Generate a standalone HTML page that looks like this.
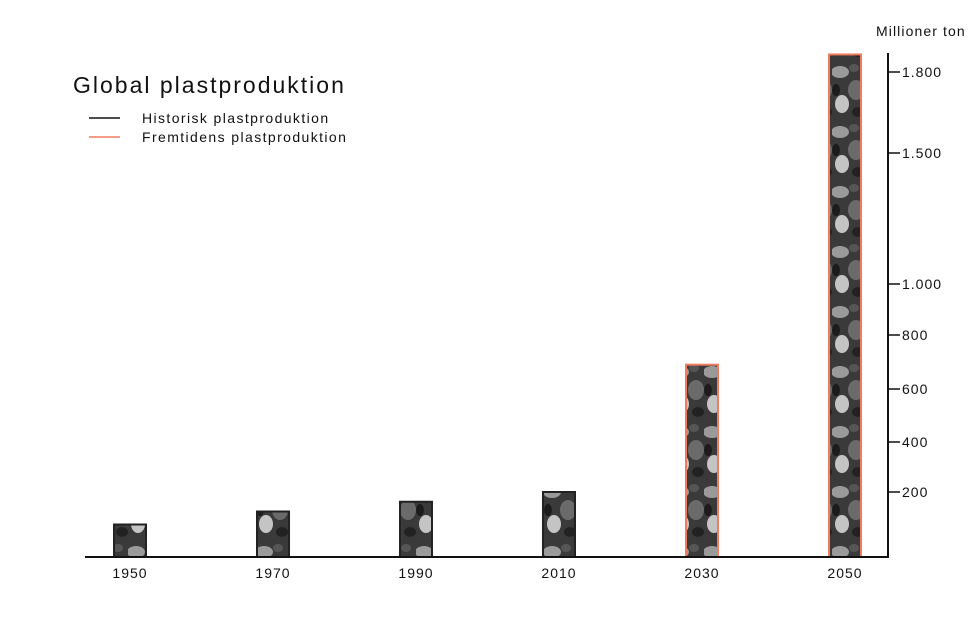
<!DOCTYPE html>
<html><head><meta charset="utf-8">
<style>
html,body{margin:0;padding:0;background:#fff;}
body{width:975px;height:633px;overflow:hidden;font-family:"Liberation Sans",sans-serif;}
</style></head>
<body>
<svg id="chart" width="975" height="633" viewBox="0 0 975 633" xmlns="http://www.w3.org/2000/svg">
<defs>
<pattern id="tex" patternUnits="userSpaceOnUse" width="32" height="60">
<rect width="32" height="60" fill="#3a3a3a"/>
<ellipse cx="8" cy="12" rx="9" ry="6" fill="#9a9a9a"/>
<ellipse cx="24" cy="30" rx="8" ry="10" fill="#6b6b6b"/>
<ellipse cx="10" cy="44" rx="7" ry="9" fill="#c4c4c4"/>
<ellipse cx="26" cy="52" rx="6" ry="5" fill="#222"/>
<ellipse cx="22" cy="8" rx="5" ry="4" fill="#555"/>
<ellipse cx="4" cy="30" rx="4" ry="6" fill="#1c1c1c"/>
</pattern>
</defs>
<g id="title">
<text x="73" y="93" font-size="23" letter-spacing="2" fill="#111">Global plastproduktion</text>
<line x1="89" y1="118" x2="120" y2="118" stroke="#111" stroke-width="1.5"/>
<text x="142" y="123" font-size="14" letter-spacing="1.4" fill="#111">Historisk plastproduktion</text>
<line x1="89" y1="137" x2="120" y2="137" stroke="#f07c5f" stroke-width="1.5"/>
<text x="142" y="142" font-size="14" letter-spacing="1.4" fill="#111">Fremtidens plastproduktion</text>
</g>
<text x="876" y="36" font-size="14" letter-spacing="1.1" fill="#111">Millioner ton</text>
<g id="bars"></g>
<g id="axes"></g>
</svg>
<script>
const categories = ["1950","1970","1990","2010","2030","2050"];
const values = [100, 140, 170, 200, 690, 1865];
const kinds = ["historic","historic","historic","historic","future","future"];
const tickValues = [200, 400, 600, 800, 1000, 1500, 1800];
const tickLabels = ["200","400","600","800","1.000","1.500","1.800"];

const NS = "http://www.w3.org/2000/svg";
const anchorV = [0, 200, 400, 600, 800, 1000, 1500, 1800];
const anchorY = [557, 492, 442, 389, 335, 284, 153, 72];
function yScale(v){
  for (let i=0;i<anchorV.length-1;i++){
    if (v<=anchorV[i+1] || i===anchorV.length-2){
      const t=(v-anchorV[i])/(anchorV[i+1]-anchorV[i]);
      return anchorY[i]+t*(anchorY[i+1]-anchorY[i]);
    }
  }
}
function xScale(i){ return 130 + i*143; }
const bw = 32;
const bars = document.getElementById("bars");
categories.forEach((c,i)=>{
  const y = yScale(values[i]);
  const r = document.createElementNS(NS,"rect");
  r.setAttribute("x", xScale(i)-bw/2);
  r.setAttribute("y", y);
  r.setAttribute("width", bw);
  r.setAttribute("height", 557-y);
  r.setAttribute("fill", "url(#tex)");
  r.setAttribute("stroke", kinds[i]==="future" ? "#f07c5f" : "#222");
  r.setAttribute("stroke-width", "2");
  
  
  bars.appendChild(r);
  const t = document.createElementNS(NS,"text");
  t.setAttribute("x", xScale(i));
  t.setAttribute("y", 578);
  t.setAttribute("text-anchor","middle");
  t.setAttribute("font-size","14");
  t.setAttribute("letter-spacing","1");
  t.setAttribute("fill","#111");
  t.textContent = c;
  
  
  bars.appendChild(t);
});
const axes = document.getElementById("axes");
const xa = document.createElementNS(NS,"line");
xa.setAttribute("x1",85);xa.setAttribute("x2",888);xa.setAttribute("y1",557);xa.setAttribute("y2",557);
xa.setAttribute("stroke","#111");xa.setAttribute("stroke-width","2");


axes.appendChild(xa);
const ya = document.createElementNS(NS,"line");
ya.setAttribute("x1",888);ya.setAttribute("x2",888);ya.setAttribute("y1",53);ya.setAttribute("y2",558);
ya.setAttribute("stroke","#111");ya.setAttribute("stroke-width","2");


axes.appendChild(ya);
tickValues.forEach((v,i)=>{
  const y = yScale(v);
  const l = document.createElementNS(NS,"line");
  l.setAttribute("x1",888);l.setAttribute("x2",900);l.setAttribute("y1",y);l.setAttribute("y2",y);
  l.setAttribute("stroke","#111");l.setAttribute("stroke-width","1.5");
  
  
  axes.appendChild(l);
  const t = document.createElementNS(NS,"text");
  t.setAttribute("x",902);t.setAttribute("y",y+5);
  t.setAttribute("font-size","14");t.setAttribute("letter-spacing","1");t.setAttribute("fill","#111");
  t.textContent = tickLabels[i];
  
  
  axes.appendChild(t);
});
</script>
</body></html>
